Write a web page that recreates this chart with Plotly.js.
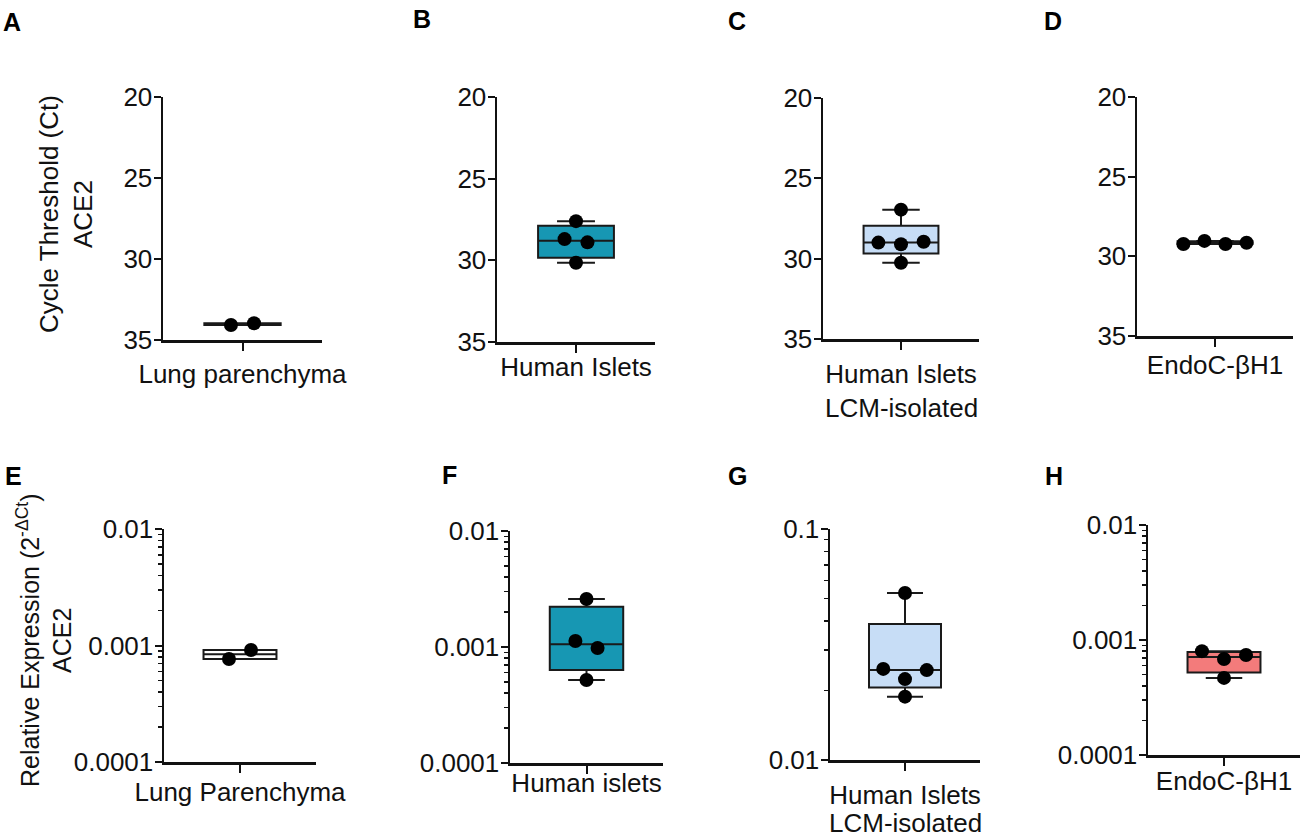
<!DOCTYPE html>
<html>
<head>
<meta charset="utf-8">
<script src="https://cdn.plot.ly/plotly-3.0.1.min.js"></script>
<style>html,body{margin:0;padding:0;background:#fff;}#chart{width:1304px;height:837px;}</style>
</head>
<body>
<div id="chart"></div>
<script>
// ---------- DATA ----------
const panelLetters = ['A', 'B', 'C', 'D', 'E', 'F', 'G', 'H'];

// Top row: Cycle threshold (Ct) of ACE2
const ctCategories = ['Lung parenchyma', 'Human Islets', 'Human Islets', 'EndoC-βH1'];
const ctSubLabels = ['', '', 'LCM-isolated', ''];
const ctLung = [34.07, 33.97];
const ctIslets = [27.6, 28.7, 28.9, 30.15];
const ctLCM = [26.95, 29.0, 29.1, 28.95, 30.25];
const ctEndoC = [29.23, 29.03, 29.23, 29.15];
const ctTickVals = [20, 25, 30, 35];
const ctTitle = 'Cycle Threshold (Ct)<br>ACE2';

// Bottom row: relative expression (2^-dCt) of ACE2
const relCategories = ['Lung Parenchyma', 'Human islets', 'Human Islets', 'EndoC-βH1'];
const relSubLabels = ['', '', 'LCM-isolated', ''];
const relLung = [0.000766, 0.000914];
const relIslets = [0.00259, 0.001127, 0.00098, 0.00052];
const relLCM = [0.0528, 0.0248, 0.0224, 0.0245, 0.0188];
const relEndoC = [0.0008, 0.000684, 0.00074, 0.000468];
const relTickVals = [0.0001, 0.001, 0.01];
const relTickText = ['0.0001', '0.001', '0.01'];
const lcmTickVals = [0.01, 0.1];
const lcmTickText = ['0.01', '0.1'];
const relTitle = 'Relative Expression (2<sup>-ΔCt</sup>)<br>ACE2';

// ---------- STYLE / LAYOUT ----------
const W = 1304, H = 837;
const FONT = 'Liberation Sans, Arial, Helvetica, sans-serif';
const FS = 26;
const fills = ['#ffffff', '#1797b3', '#c7ddf6', '#ffffff', '#ffffff', '#1797b3', '#c7ddf6', '#f37b7b'];
// pixel boxes of each plot area [x0, x1, yTop, yBottom]
const boxesPx = [
  [163, 322, 97, 340], [497, 655, 97, 342], [823, 979, 98, 339], [1137, 1293, 97, 336],
  [164, 316, 529, 762], [510, 663, 531, 763], [830, 980, 529, 760], [1148, 1300, 525, 755]
];
const standoffs = [1, -8, 2, -4, -3, -13, 2, -7];
const subLabelY = [0, 0, 408, 0, 0, 0, 823, 0];
const letterPos = [[12, 22], [422, 19], [737, 21], [1053, 21], [13, 476], [449, 475], [737, 476], [1054, 476]];

function quant(sorted, p) {
  const n = sorted.length;
  const pos = (n + 1) * p;
  if (pos <= 1) return sorted[0];
  if (pos >= n) return sorted[n - 1];
  const lo = Math.floor(pos), f = pos - lo;
  return sorted[lo - 1] + f * (sorted[lo] - sorted[lo - 1]);
}
function median(sorted) {
  const n = sorted.length;
  return n % 2 ? sorted[(n - 1) / 2] : (sorted[n / 2 - 1] + sorted[n / 2]) / 2;
}
// simple beeswarm: group points closer than thr (axis units) and spread them
function swarm(vals, thr, step, isLog) {
  const v = vals.map(a => isLog ? Math.log10(a) : a);
  const idx = v.map((_, i) => i).sort((a, b) => v[a] - v[b]);
  const groups = [];
  idx.forEach((i, k) => {
    if (k === 0 || v[i] - v[idx[k - 1]] > thr) groups.push([i]);
    else groups[groups.length - 1].push(i);
  });
  const off = new Array(vals.length).fill(0);
  groups.forEach(g => {
    g.sort((a, b) => a - b);
    g.forEach((i, j) => { off[i] = (j - (g.length - 1) / 2) * step; });
  });
  return off;
}

const panels = [
  {vals: ctLung, cat: ctCategories[0], sub: ctSubLabels[0], log: false},
  {vals: ctIslets, cat: ctCategories[1], sub: ctSubLabels[1], log: false},
  {vals: ctLCM, cat: ctCategories[2], sub: ctSubLabels[2], log: false},
  {vals: ctEndoC, cat: ctCategories[3], sub: ctSubLabels[3], log: false},
  {vals: relLung, cat: relCategories[0], sub: relSubLabels[0], log: true, tv: relTickVals, tt: relTickText, range: [-4, -2]},
  {vals: relIslets, cat: relCategories[1], sub: relSubLabels[1], log: true, tv: relTickVals, tt: relTickText, range: [-4, -2]},
  {vals: relLCM, cat: relCategories[2], sub: relSubLabels[2], log: true, tv: lcmTickVals, tt: lcmTickText, range: [-2, -1]},
  {vals: relEndoC, cat: relCategories[3], sub: relSubLabels[3], log: true, tv: relTickVals, tt: relTickText, range: [-4, -2]}
];

const traces = [];
const layout = {
  width: W, height: H,
  margin: {l: 0, r: 0, t: 0, b: 0},
  paper_bgcolor: '#ffffff', plot_bgcolor: '#ffffff',
  showlegend: false,
  font: {family: FONT, size: FS, color: '#111111'},
  annotations: []
};

panels.forEach((p, k) => {
  const n = k + 1;
  const xa = 'x' + (n === 1 ? '' : n), ya = 'y' + (n === 1 ? '' : n);
  const xKey = 'xaxis' + (n === 1 ? '' : n), yKey = 'yaxis' + (n === 1 ? '' : n);
  const s = p.vals.slice().sort((a, b) => a - b);
  traces.push({
    type: 'box', x: [0], xaxis: xa, yaxis: ya,
    q1: [quant(s, 0.25)], median: [median(s)], q3: [quant(s, 0.75)],
    lowerfence: [s[0]], upperfence: [s[s.length - 1]],
    width: 0.96, whiskerwidth: 0.5,
    fillcolor: fills[k], line: {color: '#1a1a1a', width: 2},
    boxpoints: false, hoverinfo: 'skip'
  });
  const range = p.log ? (p.range[1] - p.range[0]) : 15;
  const offs = swarm(p.vals, 0.055 * range, k === 3 ? 0.27 : 0.29, p.log);
  traces.push({
    type: 'scatter', mode: 'markers', xaxis: xa, yaxis: ya,
    x: offs, y: p.vals, cliponaxis: false,
    marker: {size: 14, color: '#000000'}, hoverinfo: 'skip'
  });
  const b = boxesPx[k];
  layout[xKey] = {
    domain: [b[0] / W, b[1] / W], anchor: ya,
    range: [-1, 1], showgrid: false, zeroline: false,
    showline: true, linecolor: '#111', linewidth: 2.5,
    ticks: 'outside', ticklen: 8, tickwidth: 2, tickcolor: '#111',
    tickmode: 'array', tickvals: [0], ticktext: [p.cat],
    ticklabelstandoff: standoffs[k],
    tickfont: {family: FONT, size: FS, color: '#111'}, fixedrange: true
  };
  const yax = {
    domain: [1 - b[3] / H, 1 - b[2] / H], anchor: xa,
    showgrid: false, zeroline: false,
    showline: true, linecolor: '#111', linewidth: 2.5,
    ticks: 'outside', ticklen: 7, tickwidth: 2, tickcolor: '#111',
    ticklabelstandoff: -4,
    tickfont: {family: FONT, size: FS, color: '#111'}, fixedrange: true
  };
  if (p.log) {
    yax.type = 'log';
    yax.range = p.range;
    yax.tickmode = 'array';
    yax.tickvals = p.tv;
    yax.ticktext = p.tt;
    const minorVals = [];
    for (let e = p.range[0]; e < p.range[1]; e++) {
      for (let m = 2; m <= 9; m++) minorVals.push(m * Math.pow(10, e));
    }
    yax.minor = {tickmode: 'array', tickvals: minorVals, ticks: 'outside', ticklen: 4, tickwidth: 1.5, tickcolor: '#111', showgrid: false};
  } else {
    yax.range = [35, 20];
    yax.tickmode = 'array';
    yax.tickvals = ctTickVals;
  }
  layout[yKey] = yax;
  if (p.sub) {
    layout.annotations.push({
      xref: xa, yref: 'paper', x: 0, y: 1 - subLabelY[k] / H,
      xanchor: 'center', yanchor: 'middle', showarrow: false,
      text: p.sub, font: {family: FONT, size: FS, color: '#111'}
    });
  }
  layout.annotations.push({
    xref: 'paper', yref: 'paper', x: letterPos[k][0] / W, y: 1 - letterPos[k][1] / H,
    xanchor: 'center', yanchor: 'middle', showarrow: false,
    text: '<b>' + panelLetters[k] + '</b>',
    font: {family: FONT, size: 25, color: '#000'}
  });
});

layout.annotations.push({
  xref: 'paper', yref: 'paper', x: 66 / W, y: 1 - 214 / H,
  xanchor: 'center', yanchor: 'middle', showarrow: false, textangle: -90,
  text: ctTitle, font: {family: FONT, size: FS, color: '#111'}
});
layout.annotations.push({
  xref: 'paper', yref: 'paper', x: 44 / W, y: 1 - 641 / H,
  xanchor: 'center', yanchor: 'middle', showarrow: false, textangle: -90,
  text: relTitle, font: {family: FONT, size: 25, color: '#111'}
});

Plotly.newPlot('chart', traces, layout, {displayModeBar: false, staticPlot: true});
</script>
</body>
</html>
